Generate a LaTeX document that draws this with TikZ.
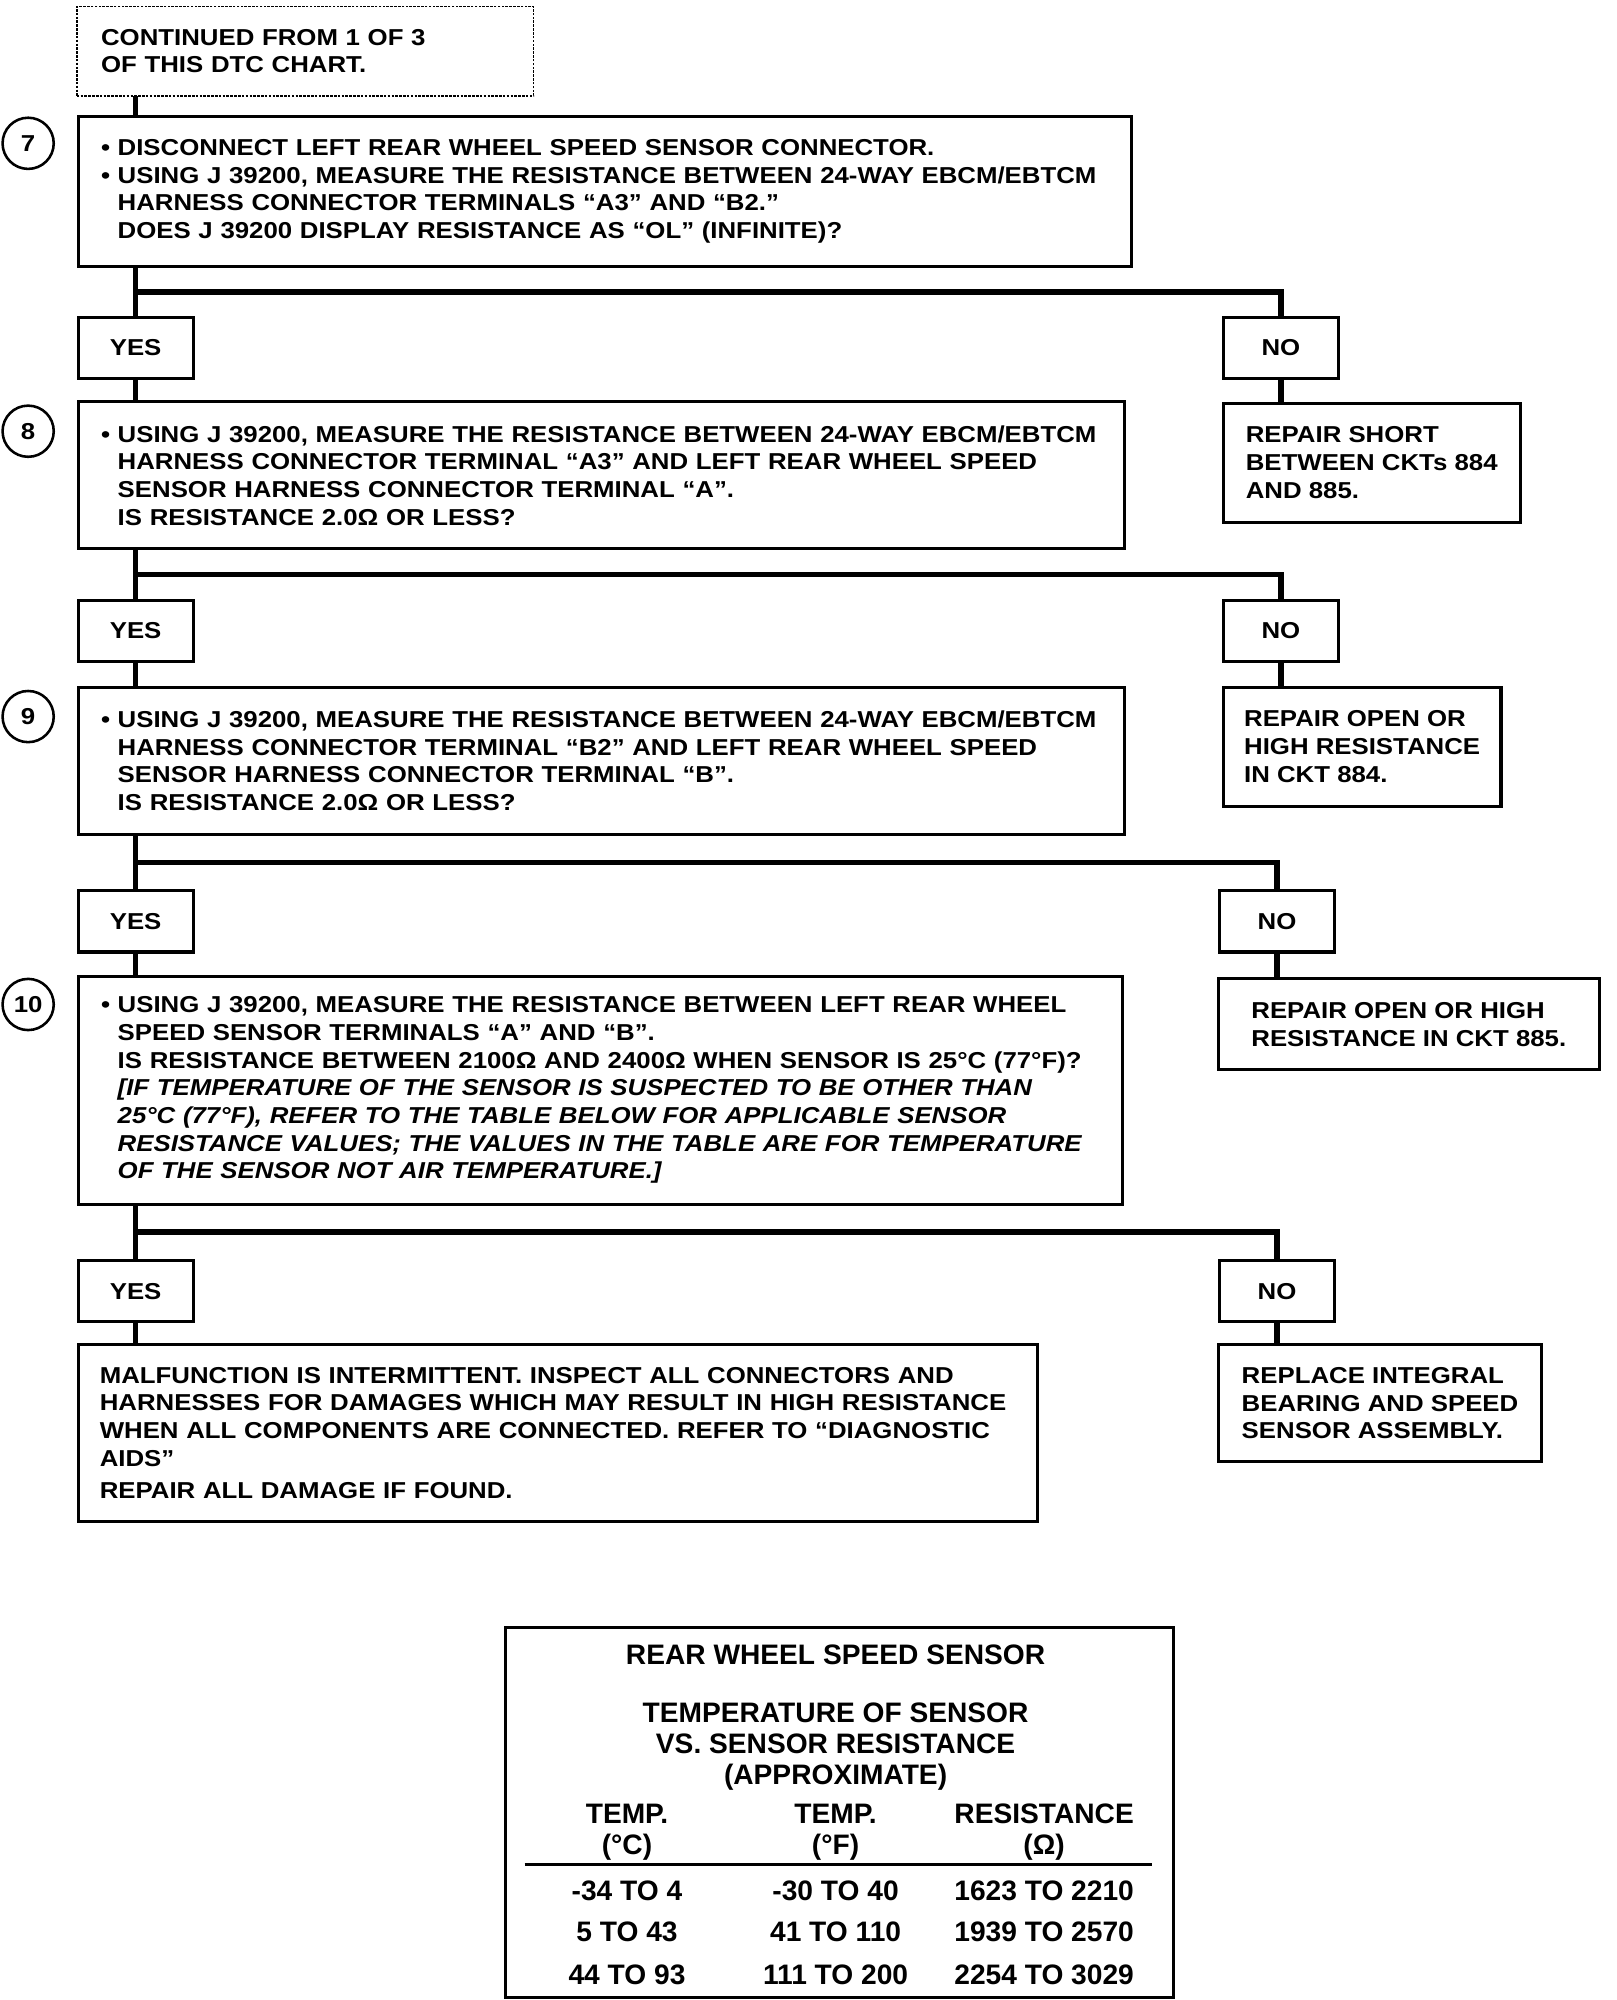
\documentclass[tikz,border=0pt]{standalone}
\usepackage{fontspec}
\setmainfont{Liberation Sans}[FakeStretch=1.12]
\newfontfamily\tableface{Liberation Sans}
\usetikzlibrary{positioning,calc}

\def\chartfont{\fontsize{18}{21.6}\selectfont\bfseries}
\def\tablefont{\tableface\fontsize{22}{24}\selectfont\bfseries}
\def\bul{\makebox[13pt][l]{•}}
\def\ind{\hspace*{13pt}}

\begin{document}
\begin{tikzpicture}[x=1pt,y=-1pt,line join=miter]
    \tikzstyle{every node}=[font=\chartfont]
    \tikzstyle{box}=[draw,line width=2.4pt,rectangle,anchor=north west,align=left,
                     inner xsep=18pt,inner ysep=0pt,outer sep=0pt]
    \tikzstyle{start box}=[box,line width=1.3pt,dash pattern=on 2pt off 1pt,inner xsep=19pt]
    \tikzstyle{fix box}=[box,inner xsep=0pt]
    \tikzstyle{answer}=[draw,line width=2.4pt,minimum width=90pt,minimum height=48pt,
                        inner sep=0pt,outer sep=0pt]
    \tikzstyle{step number}=[circle,draw,line width=2pt,minimum size=40pt,inner sep=0pt]
    \tikzstyle{wire}=[line width=4.4pt]
    \tikzstyle{table text}=[font=\tablefont,align=center,inner sep=0pt]

    % Page
    \fill[white] (0,0) rectangle (1263,1563);
    \useasboundingbox (0,0) rectangle (1263,1563);

    % Draw the start box and the test boxes
    \node[start box, minimum height=70pt, text width=319pt] (cont) at (60,5)
        {CONTINUED FROM 1 OF 3\\OF THIS DTC CHART.};
    \node[box, minimum height=117pt, text width=787pt] (q7) at (61,91)
        {\bul DISCONNECT LEFT REAR WHEEL SPEED SENSOR CONNECTOR.\\
         \bul USING J 39200, MEASURE THE RESISTANCE BETWEEN 24-WAY EBCM/EBTCM\\
         \ind HARNESS CONNECTOR TERMINALS “A3” AND “B2.”\\
         \ind DOES J 39200 DISPLAY RESISTANCE AS “OL” (INFINITE)?};
    \node[box, minimum height=115pt, text width=782pt] (q8) at (61,314)
        {\bul USING J 39200, MEASURE THE RESISTANCE BETWEEN 24-WAY EBCM/EBTCM\\
         \ind HARNESS CONNECTOR TERMINAL “A3” AND LEFT REAR WHEEL SPEED\\
         \ind SENSOR HARNESS CONNECTOR TERMINAL “A”.\\
         \ind IS RESISTANCE 2.0Ω OR LESS?};
    \node[box, minimum height=115pt, text width=782pt] (q9) at (61,537)
        {\bul USING J 39200, MEASURE THE RESISTANCE BETWEEN 24-WAY EBCM/EBTCM\\
         \ind HARNESS CONNECTOR TERMINAL “B2” AND LEFT REAR WHEEL SPEED\\
         \ind SENSOR HARNESS CONNECTOR TERMINAL “B”.\\
         \ind IS RESISTANCE 2.0Ω OR LESS?};
    \node[box, minimum height=178pt, text width=780pt] (q10) at (61,763)
        {\bul USING J 39200, MEASURE THE RESISTANCE BETWEEN LEFT REAR WHEEL\\
         \ind SPEED SENSOR TERMINALS “A” AND “B”.\\
         \ind IS RESISTANCE BETWEEN 2100Ω AND 2400Ω WHEN SENSOR IS 25°C (77°F)?\\
         \ind\textit{[IF TEMPERATURE OF THE SENSOR IS SUSPECTED TO BE OTHER THAN}\\
         \ind\textit{25°C (77°F), REFER TO THE TABLE BELOW FOR APPLICABLE SENSOR}\\
         \ind\textit{RESISTANCE VALUES; THE VALUES IN THE TABLE ARE FOR TEMPERATURE}\\
         \ind\textit{OF THE SENSOR NOT AIR TEMPERATURE.]}};
    \node[box, minimum height=138pt, text width=716pt, inner xsep=17pt] (intermit) at (61,1051)
        {MALFUNCTION IS INTERMITTENT. INSPECT ALL CONNECTORS AND\\
         HARNESSES FOR DAMAGES WHICH MAY RESULT IN HIGH RESISTANCE\\
         WHEN ALL COMPONENTS ARE CONNECTED. REFER TO “DIAGNOSTIC\\
         AIDS”\\[4pt]
         REPAIR ALL DAMAGE IF FOUND.};

    % Draw the repair boxes
    \node[fix box, minimum height=93pt, minimum width=232pt] (fix7) at (956,315)
        {REPAIR SHORT\\BETWEEN CKTs 884\\AND 885.};
    \node[fix box, minimum height=93pt, minimum width=217pt] (fix8) at (956,537)
        {REPAIR OPEN OR\\HIGH RESISTANCE\\IN CKT 884.};
    \node[fix box, minimum height=71pt, minimum width=298pt] (fix9) at (952,765)
        {REPAIR OPEN OR HIGH\\RESISTANCE IN CKT 885.};
    \node[fix box, minimum height=91pt, minimum width=253pt] (fix10) at (952,1051)
        {REPLACE INTEGRAL\\BEARING AND SPEED\\SENSOR ASSEMBLY.};

    % Draw the step numbers
    \foreach \num / \y in {7/112,8/337,9/560,10/785}
        \node[step number] (N-\num) at (22,\y) {\num};

    % Draw the YES and NO boxes
    \foreach \num / \y / \x in {7/272/1001,8/493/1001,9/720/998,10/1009/998}
    {
        \node[answer] (yes\num) at (106,\y) {YES};
        \node[answer] (no\num) at (\x,\y) {NO};
    }

    % Connect every test box with its answers
    \draw[wire] (cont.south -| yes7.north) -- (q7.north -| yes7.north);
    \foreach \num in {7,...,10}
    {
        \coordinate (b\num) at ($(q\num.south)!0.5!(yes\num.north)$);
        \draw[wire] (q\num.south -| yes\num.north) -- (yes\num.north);
        \draw[wire] (yes\num.north |- b\num) -| (no\num.north);
    }

    % Connect every answer with the box below it
    \foreach \source / \dest in {yes7/q8,yes8/q9,yes9/q10,yes10/intermit,no7/fix7,no8/fix8,no9/fix9,no10/fix10}
        \draw[wire] (\source.south) -- (\source.south |- \dest.north);

    % Draw the sensor table
    \node[draw,line width=2.4pt,anchor=north west,minimum width=522pt,minimum height=289pt,
          inner sep=0pt,outer sep=0pt] (sensor) at (395,1272) {};
    \node[table text] (tab-title) at (653,1293) {REAR WHEEL SPEED SENSOR};
    \node[table text] (tab-sub) at (653,1365)
        {TEMPERATURE OF SENSOR\\VS. SENSOR RESISTANCE\\(APPROXIMATE)};
    \foreach \name / \x / \head / \unit in {c/490/TEMP./(°C),f/653/TEMP./(°F),r/816/RESISTANCE/(Ω)}
        \node[table text] (head-\name) at (\x,1432) {\head\\\unit};
    \draw[line width=2.2pt] (410,1457) -- (900,1457);
    \foreach \row / \y / \c / \f / \r in {1/1478/-34 TO 4/-30 TO 40/1623 TO 2210,
                                          2/1510/5 TO 43/41 TO 110/1939 TO 2570,
                                          3/1543/44 TO 93/111 TO 200/2254 TO 3029}
    {
        \node[table text] (c-\row) at (490,\y) {\c};
        \node[table text] (f-\row) at (653,\y) {\f};
        \node[table text] (r-\row) at (816,\y) {\r};
    }
\end{tikzpicture}
\end{document}
